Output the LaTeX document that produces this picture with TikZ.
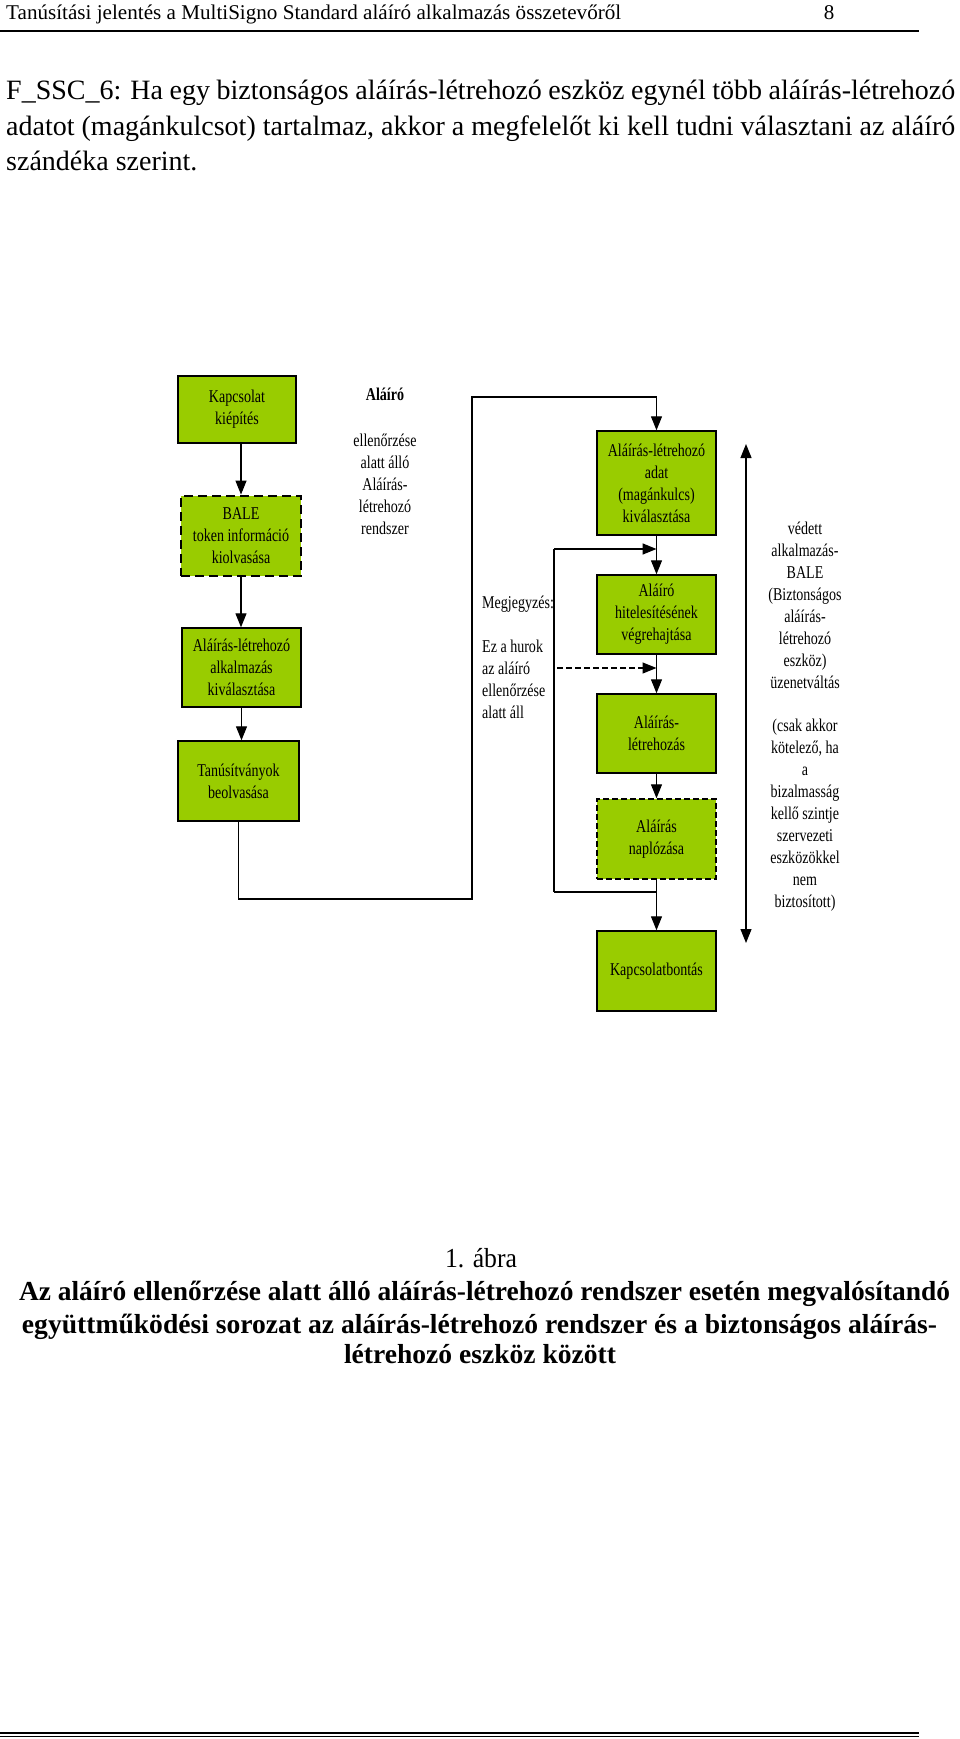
\documentclass[tikz,border=0pt]{standalone}
\usepackage{fontspec}
\usepackage{graphicx}
\setmainfont{Liberation Serif}
\newfontfamily\dg[FakeStretch=0.78]{Liberation Serif}
\usetikzlibrary{arrows.meta}
\definecolor{boxgreen}{HTML}{99CC00}
\begin{document}
\begin{tikzpicture}[x=1pt,y=-1pt,
  dfont/.style={font=\dg\fontsize{18}{22}\selectfont},
  box/.style={draw=black, line width=1.4pt, fill=boxgreen, minimum width=119pt, inner sep=0pt, align=center, dfont},
  dbox/.style={box, line width=2.8pt, dash pattern=on 9pt off 5pt},
  tbox/.style={box, line width=1.4pt, dash pattern=on 6pt off 3pt},
  lbl/.style={align=center, inner sep=0pt, dfont},
  conn/.style={line width=1.2pt},
  arr/.style={conn, -{Triangle[length=14pt,width=11pt]}},
  darr/.style={conn, {Triangle[length=14pt,width=11pt]}-{Triangle[length=14pt,width=11pt]}},
  txt/.style={inner sep=0pt, anchor=base},
]
\useasboundingbox (0,0) rectangle (960,1739);
\fill[white] (0,0) rectangle (960,1739);

% header
\node[txt, anchor=base west] (hdr) at (6,20) {\resizebox{615pt}{\height}{\fontsize{21}{24}\selectfont Tanúsítási jelentés a MultiSigno Standard aláíró alkalmazás összetevőről}};
\node[txt] (pnum) at (829,20) {\fontsize{21}{24}\selectfont 8};
\draw[line width=2.5pt] (0,31) -- (919,31);

% paragraph
\node[txt, anchor=base west] (p1) at (6,100) {\fontsize{28}{35}\selectfont\makebox[949pt][s]{F\_SSC\_6: Ha egy biztonságos aláírás-létrehozó eszköz egynél több aláírás-létrehozó}};
\node[txt, anchor=base west] (p2) at (6,135.5) {\fontsize{28}{35}\selectfont\makebox[949pt][s]{adatot (magánkulcsot) tartalmaz, akkor a megfelelőt ki kell tudni választani az aláíró}};
\node[txt, anchor=base west] (p3) at (6,171) {\fontsize{28}{35}\selectfont szándéka szerint.};

% left column
\node[box, minimum width=118pt, minimum height=67pt] (k) at (237,409.5) {Kapcsolat\\kiépítés};
\node[dbox, minimum width=120pt, minimum height=80pt] (b) at (241,536) {BALE\\token információ\\kiolvasása};
\node[box, minimum width=119pt, minimum height=79pt] (a) at (241.5,667.5) {Aláírás-létrehozó\\alkalmazás\\kiválasztása};
\node[box, minimum width=121pt, minimum height=80pt] (t) at (238.5,781) {Tanúsítványok\\beolvasása};

\draw[arr] (k.south -| b.north) -- (b.north);
\draw[arr] (b.south) -- (b.south |- a.north);
\draw[arr] (a.south) -- (a.south |- t.north);

% middle labels
\node[lbl, font=\dg\bfseries\fontsize{18}{22}\selectfont] (alairo) at (385,394) {Aláíró};
\node[lbl] (rsz) at (385,484.5) {ellenőrzése\\alatt álló\\Aláírás-\\létrehozó\\rendszer};
\node[lbl, align=left, anchor=north west] (megj) at (482,596) {Megjegyzés:\\[21.8pt]Ez a hurok\\az aláíró\\ellenőrzése\\alatt áll};

% right column
\node[box, minimum height=104pt] (r1) at (656.5,483) {Aláírás-létrehozó\\adat\\(magánkulcs)\\kiválasztása};
\node[box, minimum height=79pt] (r2) at (656.5,614.5) {Aláíró\\hitelesítésének\\végrehajtása};
\node[box, minimum height=79pt] (r3) at (656.5,733.5) {Aláírás-\\létrehozás};
\node[tbox, minimum height=80pt] (r4) at (656.5,839) {Aláírás\\naplózása};
\node[box, minimum height=80pt] (r5) at (656.5,971) {Kapcsolatbontás};

% big loop from left column to right column
\coordinate (l1) at (472,899);
\coordinate (l2) at (472,397);
\draw[arr] (t.south) |- (l1) -- (l2) -| (r1.north);

\draw[arr] (r1.south) -- (r2.north);
\draw[arr] (r2.south) -- (r3.north);
\draw[arr] (r3.south) -- (r4.north);
\draw[arr] (r4.south) -- (r5.north);

% inner loop
\coordinate (j1) at (656.5,892);
\coordinate (v1) at (554,892);
\coordinate (v2) at (554,549);
\coordinate (j2) at (656.5,549);
\draw[conn, line width=1.6pt] (j1) -- (v1);
\draw[conn] (v1) -- (v2);
\draw[arr, line width=1.6pt] (v2) -- (j2);

% dashed arrow
\coordinate (d1) at (557,668);
\draw[arr, dash pattern=on 6pt off 3pt] (d1) -- (d1 -| r2.south);

% right double arrow
\coordinate (ra) at (746,444);
\coordinate (rb) at (746,943);
\draw[darr] (ra) -- (rb);
\node[lbl] (rtxt) at (805,716.5) {védett\\alkalmazás-\\BALE\\(Biztonságos\\aláírás-\\létrehozó\\eszköz)\\üzenetváltás\\[21.7pt](csak akkor\\kötelező, ha\\a\\bizalmasság\\kellő szintje\\szervezeti\\eszközökkel\\nem\\biztosított)};

% caption
\node[txt] (cap0) at (481,1267) {\resizebox{72pt}{\height}{\fontsize{27.5}{30}\selectfont 1. ábra}};
\node[txt] (cap1) at (484.5,1300) {\resizebox{931pt}{\height}{\fontsize{27.5}{30}\selectfont\bfseries Az aláíró ellenőrzése alatt álló aláírás-létrehozó rendszer esetén megvalósítandó}};
\node[txt] (cap2) at (479.5,1333) {\resizebox{915pt}{\height}{\fontsize{27.5}{30}\selectfont\bfseries együttműködési sorozat az aláírás-létrehozó rendszer és a biztonságos aláírás-}};
\node[txt] (cap3) at (480,1363) {\resizebox{272pt}{\height}{\fontsize{27.5}{30}\selectfont\bfseries létrehozó eszköz között}};

% bottom rule
\draw[line width=1.6pt] (0,1733) -- (919,1733);
\draw[line width=0.7pt] (0,1736.5) -- (919,1736.5);
\end{tikzpicture}
\end{document}
